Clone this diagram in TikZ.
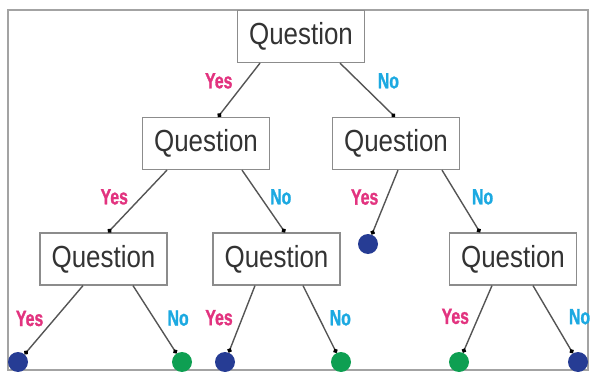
\documentclass[tikz,border=0pt]{standalone}
\usepackage{fontspec}
\setmainfont{Liberation Sans}
\newfontfamily\qfont[FakeStretch=0.85]{Liberation Sans}
\newfontfamily\ansfont[FakeStretch=0.72,FakeBold=1.2]{Liberation Sans Bold}
\usepackage{tikz}
\usetikzlibrary{arrows.meta}
\definecolor{yescol}{HTML}{E2337F}
\definecolor{nocol}{HTML}{1CA9E1}
\definecolor{leafblue}{HTML}{263C94}
\definecolor{leafgreen}{HTML}{0E9F52}
\definecolor{boxgray}{HTML}{8C8C8C}
\definecolor{linegray}{HTML}{555555}

\begin{document}
\begin{tikzpicture}[x=1pt,y=-1pt,
  qbox/.style={draw=boxgray,line width=1.2pt,fill=white,minimum width=127pt,
    minimum height=52pt,inner sep=0pt,text=black!80,
    font=\qfont\fontsize{30.5}{32}\selectfont},
  ans/.style={inner sep=0pt,font=\ansfont\fontsize{22}{24}\selectfont},
  yeslbl/.style={ans,text=yescol,left},
  nolbl/.style={ans,text=nocol,right},
  link/.style={draw=linegray,line width=1.4pt,-{Circle[length=4.5pt,color=black]}},
  leafb/.style={circle,fill=leafblue,minimum size=20pt,inner sep=0pt},
  leafg/.style={leafb,fill=leafgreen}]
\useasboundingbox (0,0) rectangle (590,372);
\draw[boxgray!80,line width=1.5pt] (8,10) rectangle (588,370);

\node[qbox] (q0) at (301,36.5) {Question};

\node[qbox] (q10) at (206,143.5) {Question};
\node[qbox] (q11) at (396,143.5) {Question};

\node[qbox] (q20) at (103.5,259) {Question};
\node[qbox] (q21) at (276.5,259) {Question};
\node[qbox] (q22) at (513,259) {Question};

\node[leafb] (l11) at (368,244) {};

\node[leafb] (l20) at (18,362) {};
\node[leafg] (l21) at (182,362) {};
\node[leafb] (l22) at (225,362) {};
\node[leafg] (l23) at (341,362) {};
\node[leafg] (l24) at (459,362) {};
\node[leafb] (l25) at (578,362) {};

\path ([xshift=-41pt]q0.south) edge[link] node[yeslbl,pos=.33,xshift=-13pt]{Yes} ([xshift=12pt]q10.north)
      ([xshift=39pt]q0.south) edge[link] node[nolbl,pos=.33,xshift=19pt]{No} ([xshift=-1pt]q11.north)
      ;
\path ([xshift=-39pt]q10.south) edge[link] node[yeslbl,pos=.43,xshift=-13pt]{Yes} ([xshift=4.5pt]q20.north)
      ([xshift=36pt]q10.south) edge[link] node[nolbl,pos=.43,xshift=9pt]{No} ([xshift=8.5pt]q21.north)
      ([xshift=2pt]q11.south) edge[link] node[yeslbl,pos=.42,xshift=-8pt]{Yes} (l11)
      ([xshift=46pt]q11.south) edge[link] node[nolbl,pos=.43,xshift=13pt]{No} ([xshift=-33pt]q22.north)
      ;
\path ([xshift=-20.5pt]q20.south) edge[link] node[yeslbl,pos=.48,xshift=-11pt]{Yes} (l20)
      ([xshift=29.5pt]q20.south) edge[link] node[nolbl,pos=.48,xshift=13pt]{No} (l21)
      ([xshift=-21.5pt]q21.south) edge[link] node[yeslbl,pos=.48,xshift=-9pt]{Yes} (l22)
      ([xshift=26.5pt]q21.south) edge[link] node[nolbl,pos=.48,xshift=10pt]{No} (l23)
      ([xshift=-21pt]q22.south) edge[link] node[yeslbl,pos=.46,xshift=-9pt]{Yes} (l24)
      ([xshift=20pt]q22.south) edge[link] node[nolbl,pos=.46,xshift=17pt]{No} (l25)
      ;
\end{tikzpicture}
\end{document}
